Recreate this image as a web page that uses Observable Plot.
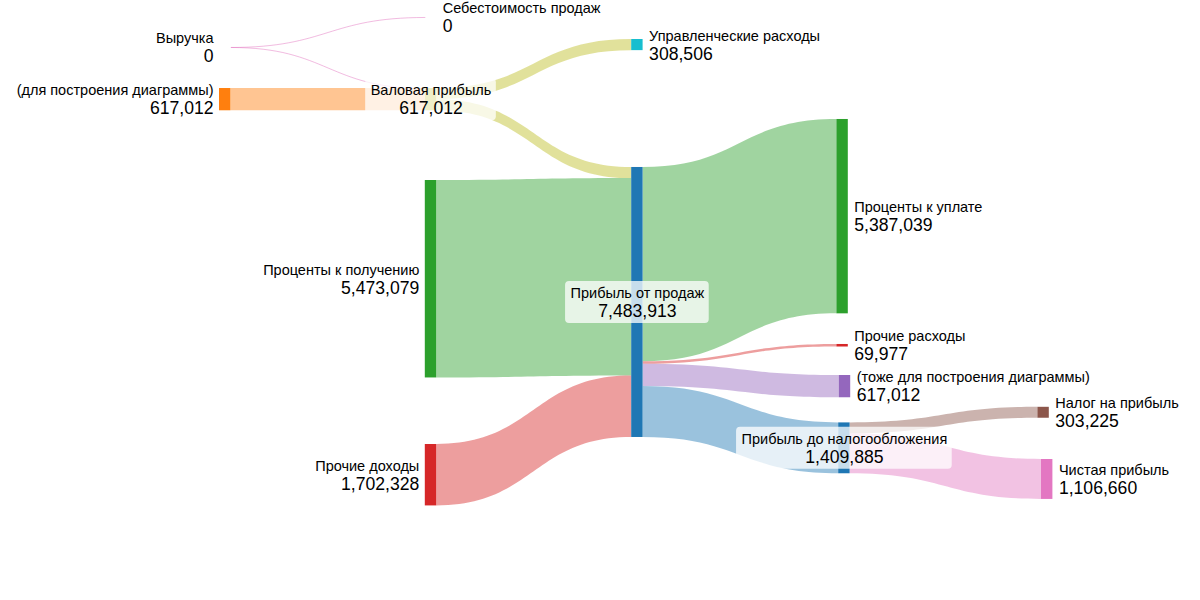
<!DOCTYPE html>
<html><head><meta charset="utf-8">
<script src="https://cdn.jsdelivr.net/npm/d3@7"></script>
<script src="https://cdn.jsdelivr.net/npm/@observablehq/plot@0.6"></script>
<style>body{margin:0;background:#fff;}</style>
</head><body><div id="chart"></div>
<script>
// ---- data ----
const nodeNames = [
  "Выручка", "(для построения диаграммы)", "Себестоимость продаж", "Валовая прибыль",
  "Управленческие расходы", "Проценты к получению", "Прочие доходы", "Прибыль от продаж",
  "Проценты к уплате", "Прочие расходы", "(тоже для построения диаграммы)",
  "Прибыль до налогообложения", "Налог на прибыль", "Чистая прибыль"
];
const nodeValues = [0, 617012, 0, 617012, 308506, 5473079, 1702328, 7483913,
  5387039, 69977, 617012, 1409885, 303225, 1106660];
const nodeColors = ["#e377c2", "#ff7f0e", "#7f7f7f", "#bcbd22", "#17becf", "#2ca02c", "#d62728", "#1f77b4",
  "#2ca02c", "#d62728", "#9467bd", "#1f77b4", "#8c564b", "#e377c2"];
const linkSources = [0, 0, 1, 3, 3, 5, 6, 7, 7, 7, 7, 11, 11];
const linkTargets = [2, 3, 3, 4, 7, 7, 7, 8, 9, 10, 11, 12, 13];
const linkValues = [0, 0, 617012, 308506, 308506, 5473079, 1702328, 5387039, 69977, 617012, 1409885, 303225, 1106660];
const linkColors = ["#e377c2", "#e377c2", "#ff7f0e", "#bcbd22", "#bcbd22", "#2ca02c", "#d62728",
  "#2ca02c", "#d62728", "#9467bd", "#1f77b4", "#8c564b", "#e377c2"];

// ---- layout (node placement, fractions of the frame) ----
const nodeX = [0.1825, 0.1825, 0.354, 0.354, 0.526, 0.354, 0.354, 0.526, 0.697, 0.697, 0.699, 0.6985, 0.8645, 0.8675];
const nodeY = [0.0783, 0.1467, 0.0283, 0.1467, 0.065, 0.3, 0.74, 0.2783, 0.1983, 0.5733, 0.625, 0.704, 0.678, 0.765];
const labelSide = ["left", "left", "right", "center", "right", "left", "left", "center", "right", "right", "right", "center", "right", "right"];
const W = 1200, H = 600;
const nodeW = 11.4 / W;
const k = 0.45 / 7483913; // thickness (fraction of height) per unit of value
const fontFamily = "'Liberation Sans', Arial, sans-serif";
const nameSize = 14.5, valueSize = 17.6;

const fmt = d3.format(",");
const nodes = nodeNames.map((name, i) => ({
  i, name, value: nodeValues[i], color: nodeColors[i], side: labelSide[i],
  x0: nodeX[i], x1: nodeX[i] + nodeW, y0: nodeY[i], y1: nodeY[i] + nodeValues[i] * k,
  cy: nodeY[i] + nodeValues[i] * k / 2
}));

// stack links within nodes
const outOff = nodes.map(() => 0), inOff = nodes.map(() => 0);
const areaRows = [], zeroLinks = [];
linkValues.forEach((v, i) => {
  const s = nodes[linkSources[i]], t = nodes[linkTargets[i]];
  const th = v * k;
  const sy = s.y0 + outOff[s.i], ty = t.y0 + inOff[t.i];
  outOff[s.i] += th; inOff[t.i] += th;
  if (v === 0) {
    zeroLinks.push({x1: s.x1, y1: sy, x2: t.x0, y2: ty, color: linkColors[i]});
  } else {
    areaRows.push({link: i, x: s.x1, y1: sy, y2: sy + th, color: linkColors[i]});
    areaRows.push({link: i, x: t.x0, y1: ty, y2: ty + th, color: linkColors[i]});
  }
});

// label boxes for centered labels
const ctx = document.createElement("canvas").getContext("2d");
function tw(text, size) { ctx.font = `${size}px ${fontFamily}`; return ctx.measureText(text).width; }
const boxes = nodes.filter(d => d.side === "center").map(d => {
  const w = Math.max(tw(d.name, nameSize), tw(fmt(d.value), valueSize)) + 10;
  const cx = (d.x0 + d.x1) / 2;
  return {x1: cx - w / 2 / W, x2: cx + w / 2 / W, y1: d.cy - 21 / H, y2: d.cy + 21 / H};
});

const gap = 6 / W;
const labelX = d => d.side === "left" ? d.x0 - gap : d.side === "right" ? d.x1 + gap : (d.x0 + d.x1) / 2;
const anchors = {left: "end", right: "start", center: "middle"};
const textMarks = [];
for (const side of ["left", "right", "center"]) {
  const sub = nodes.filter(d => d.side === side);
  textMarks.push(Plot.text(sub, {x: labelX, y: "cy", text: "name", dy: -9, textAnchor: anchors[side],
    fontSize: nameSize, fill: "#000"}));
  textMarks.push(Plot.text(sub, {x: labelX, y: "cy", text: d => fmt(d.value), dy: 9, textAnchor: anchors[side],
    fontSize: valueSize, fill: "#000"}));
}

const chart = Plot.plot({
  width: W, height: H, margin: 0,
  style: {fontFamily, background: "#fff"},
  x: {domain: [0, 1], range: [0, W], axis: null},
  y: {domain: [0, 1], range: [0, H], axis: null},
  color: {type: "identity"},
  marks: [
    Plot.link(zeroLinks, {x1: "x1", y1: "y1", x2: "x2", y2: "y2", curve: "bump-x",
      stroke: "color", strokeOpacity: 0.5, strokeWidth: 1}),
    Plot.areaY(areaRows, {x: "x", y1: "y1", y2: "y2", z: "link", fill: "color", fillOpacity: 0.45, curve: "bump-x"}),
    Plot.rect(nodes.filter(d => d.value > 0), {x1: "x0", x2: "x1", y1: "y0", y2: "y1", fill: "color"}),
    Plot.rect(boxes, {x1: "x1", x2: "x2", y1: "y1", y2: "y2", fill: "white", fillOpacity: 0.75, rx: 4}),
    ...textMarks
  ]
});
document.getElementById("chart").appendChild(chart);
</script>
</body></html>
